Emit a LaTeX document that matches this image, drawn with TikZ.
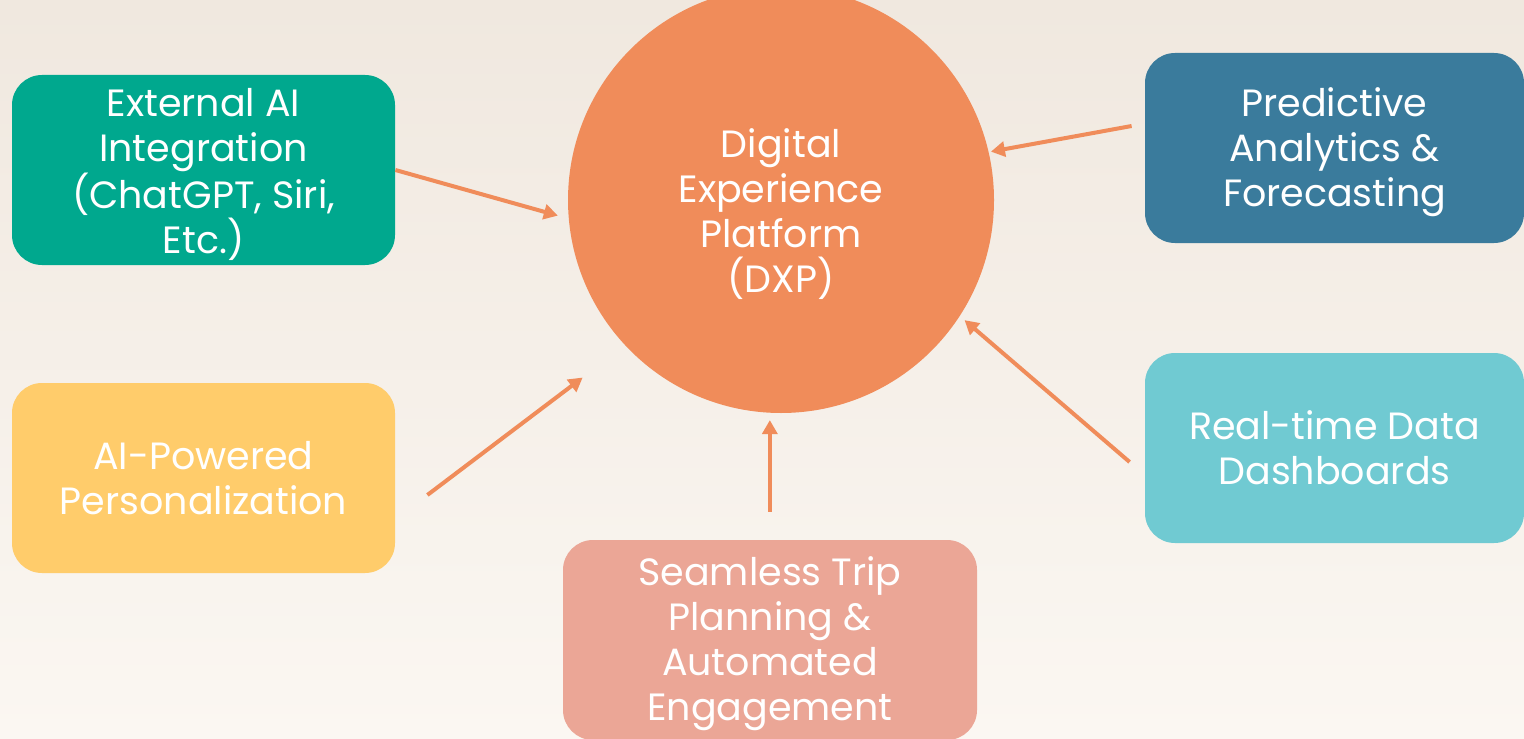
\documentclass[tikz,border=0pt]{standalone}
\usepackage{fontspec}
\setmainfont{Poppins}
\usepackage{tikz}
\usetikzlibrary{arrows.meta}
\definecolor{bgTop}{RGB}{240,232,223}
\definecolor{bgBottom}{RGB}{251,247,242}
\definecolor{dxpOrange}{RGB}{240,140,90}
\definecolor{tealColor}{RGB}{0,168,142}
\definecolor{yellowColor}{RGB}{255,204,107}
\definecolor{pinkColor}{RGB}{235,166,150}
\definecolor{blueColor}{RGB}{58,123,156}
\definecolor{skyColor}{RGB}{112,202,210}
\tikzstyle{diagram} = [x = .5pt, y = -.5pt]
\tikzstyle{featureBox} = [rectangle, rounded corners = 15pt, text = white, align = center,
  minimum width = 191.5pt, minimum height = 95pt, inner sep = 0pt,
  font = \fontsize{19}{22.5}\selectfont]
\tikzstyle{hubCircle} = [circle, fill = dxpOrange, text = white, align = center,
  minimum size = 213pt, inner sep = 0pt, font = \fontsize{19}{22.5}\selectfont]
\tikzstyle{flowArrow} = [color = dxpOrange, line width = 2pt,
  -{Triangle[length = 7pt, width = 7.5pt]}]
\newcommand{\pushDown}[1]{\\[#1]}

\begin{document}
\begin{tikzpicture}[diagram]
  % background
  \shade [top color = bgTop, bottom color = bgBottom] (0,0) rectangle (1524,738);
  \useasboundingbox (0,0) rectangle (1524,738);

  % hub
  \node [hubCircle] (dxp) at (781,200) {\pushDown{6pt}Digital\\Experience\\Platform\\(DXP)};

  % feature boxes
  \node [featureBox, fill = tealColor] (extAI) at (203.5,170) {\pushDown{-4pt}External AI\\Integration\\(ChatGPT, Siri,\\Etc.)};
  \node [featureBox, fill = yellowColor] (aiPers) at (203.5,478) {AI-Powered\\Personalization};
  \node [featureBox, fill = pinkColor, minimum width = 207pt, minimum height = 100pt] (tripPlan) at (770,640) {\pushDown{-4pt}Seamless Trip\\Planning \&\\Automated\\Engagement};
  \node [featureBox, fill = blueColor, minimum width = 189.5pt] (predAna) at (1334.5,148) {\pushDown{-4pt}Predictive\\Analytics \&\\Forecasting};
  \node [featureBox, fill = skyColor, minimum width = 189.5pt] (dashBoard) at (1334.5,448) {Real-time Data\\Dashboards};

  % connectors
  \draw [flowArrow, shorten > = 5.5pt] (extAI.east) -- (dxp.185);
  \draw [flowArrow, shorten > = 1pt] ([xshift = -6.5pt, yshift = 11pt]predAna.west) -- (dxp.13.5);
  \draw [flowArrow, shorten > = 3pt] ([xshift = -7.5pt, yshift = -7pt]dashBoard.west) -- (dxp.327);
  \draw [flowArrow, shorten > = 26.5pt] ([xshift = 16pt, yshift = -8.5pt]aiPers.east) -- (dxp.223);
  \draw [flowArrow, shorten < = 14pt, shorten > = 3.5pt] (tripPlan.north -| dxp.267) -- (dxp.267);
\end{tikzpicture}
\end{document}
